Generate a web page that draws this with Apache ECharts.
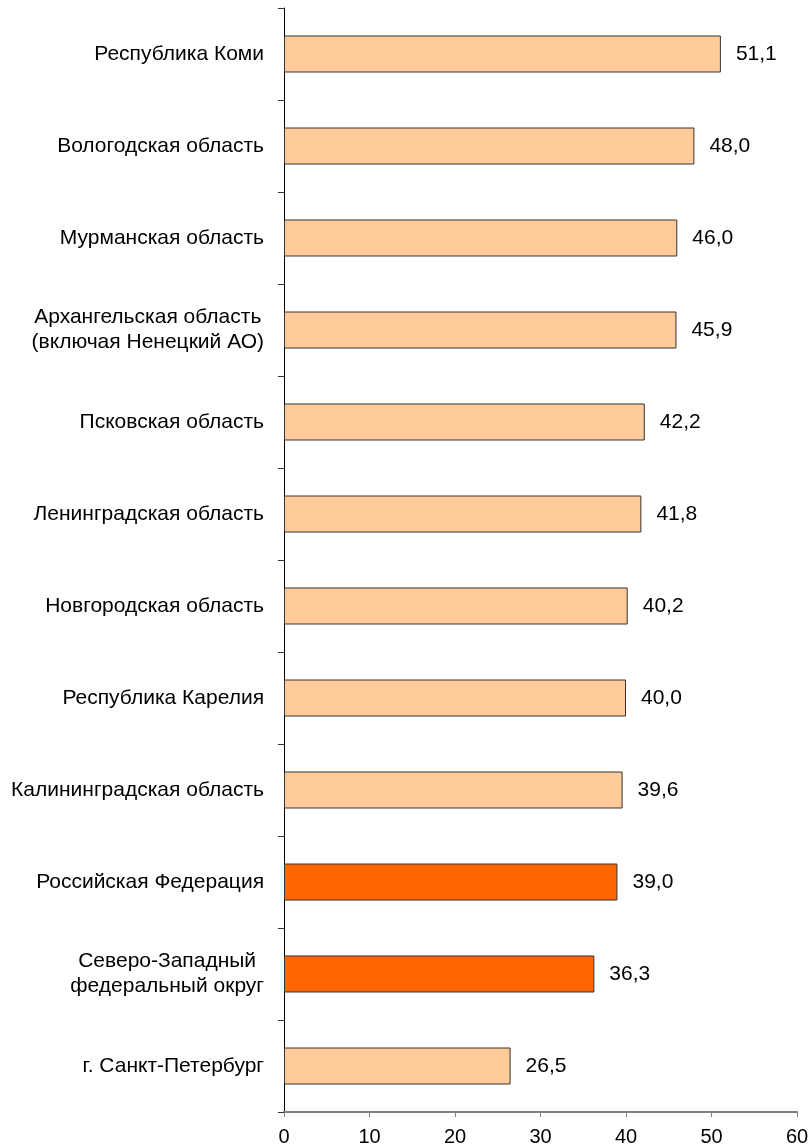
<!DOCTYPE html>
<html>
<head>
<meta charset="utf-8">
<script src="https://cdn.jsdelivr.net/npm/echarts@6/dist/echarts.min.js"></script>
<style>
html,body{margin:0;padding:0;background:#fff;}
#chart{width:812px;height:1147px;}
</style>
</head>
<body>
<div id="chart"></div>
<script>
var categories = [
  'Республика Коми',
  'Вологодская область',
  'Мурманская область',
  'Архангельская область\n(включая Ненецкий АО)',
  'Псковская область',
  'Ленинградская область',
  'Новгородская область',
  'Республика Карелия',
  'Калининградская область',
  'Российская Федерация',
  'Северо-Западный\nфедеральный округ',
  'г. Санкт-Петербург'
];
var values = [51.1, 48.0, 46.0, 45.9, 42.2, 41.8, 40.2, 40.0, 39.6, 39.0, 36.3, 26.5];
var highlighted = ['Российская Федерация', 'Северо-Западный\nфедеральный округ'];
var xTicks = [0, 10, 20, 30, 40, 50, 60];

var FONT = 'Liberation Sans, Arial, sans-serif';
var chart = echarts.init(document.getElementById('chart'));
chart.setOption({
  animation: false,
  backgroundColor: '#ffffff',
  grid: { left: 284, right: 15, top: 8, bottom: 35, containLabel: false, outerBoundsMode: 'none' },
  xAxis: {
    type: 'value',
    min: xTicks[0],
    max: xTicks[xTicks.length - 1],
    interval: xTicks[1] - xTicks[0],
    axisLine: { show: true, lineStyle: { color: '#808080', width: 2 } },
    axisTick: { show: true, length: 5, lineStyle: { color: '#808080', width: 1 } },
    splitLine: { show: false },
    axisLabel: { fontFamily: FONT, fontSize: 20, color: '#000', margin: 15 }
  },
  yAxis: {
    type: 'category',
    inverse: true,
    data: categories,
    axisLine: { show: true, lineStyle: { color: '#000', width: 1 } },
    axisTick: { show: true, length: 6, lineStyle: { color: '#333', width: 1 } },
    axisLabel: {
      margin: 20,
      formatter: function (v) { return '{c|' + v + '}'; },
      rich: { c: { fontFamily: FONT, fontSize: 21, color: '#000', align: 'center', lineHeight: 25 } }
    }
  },
  series: [{
    type: 'bar',
    barWidth: 37,
    data: values.map(function (v, i) {
      return {
        value: v,
        itemStyle: { color: highlighted.indexOf(categories[i]) >= 0 ? '#FF6600' : '#FFCC99' }
      };
    }),
    itemStyle: { borderColor: '#333', borderWidth: 1 },
    label: {
      show: true,
      position: 'right',
      distance: 15,
      fontFamily: FONT,
      fontSize: 21,
      color: '#000',
      formatter: function (p) { return p.value.toFixed(1).replace('.', ','); }
    }
  }]
});
</script>
</body>
</html>
